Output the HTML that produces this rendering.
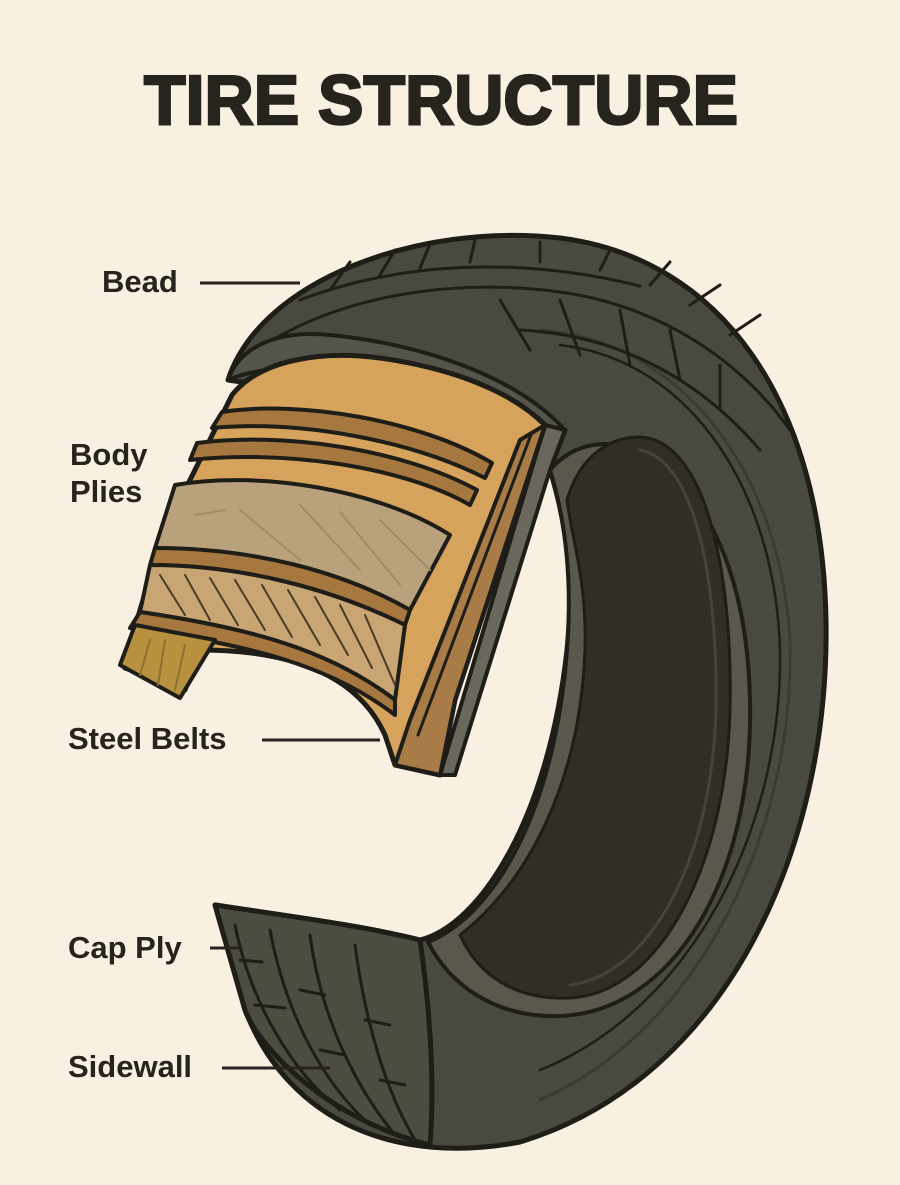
<!DOCTYPE html>
<html><head><meta charset="utf-8"><style>
html,body{margin:0;padding:0;background:#f8f0e1;}
svg{display:block}
text{font-family:"Liberation Sans",Arial,sans-serif;font-weight:bold;fill:#26241d}
</style></head><body>
<svg width="900" height="1185" viewBox="0 0 900 1185" xmlns="http://www.w3.org/2000/svg">
<rect width="900" height="1185" fill="#f8f0e1"/>
<text x="441" y="124" font-size="70" text-anchor="middle" textLength="594" lengthAdjust="spacingAndGlyphs" stroke="#26241d" stroke-width="2.5">TIRE STRUCTURE</text>

<g stroke="#1e1d18" stroke-linejoin="round" stroke-linecap="round">
<!-- tire body -->
<path d="M228,380 C260,280 420,222 560,238 C720,258 822,400 826,620 C830,850 725,1080 520,1142 C400,1165 290,1125 245,1010 L215,905 C280,915 360,925 420,940 C480,925 548,820 567,650 C574,580 567,525 550,470 L565,430 Z" fill="#4a493f" stroke-width="5"/>
<!-- sidewall lines -->
<path d="M540,330 C680,340 780,470 790,640 C795,830 700,1030 540,1100" fill="none" stroke="#3c3b33" stroke-width="3"/>
<path d="M560,345 C690,360 775,490 780,650 C783,830 690,1010 540,1070" fill="none" stroke-width="2.5"/>
<!-- hole rim -->
<path d="M550,470 C610,400 745,470 750,700 C754,880 672,1012 560,1016 C495,1018 450,985 428,942 C495,915 555,810 567,650 C572,585 567,525 550,470 Z" fill="#5a584c" stroke-width="4"/>
<!-- hole -->
<path d="M567,500 C580,455 610,437 640,437 C705,440 733,570 730,710 C726,865 660,995 568,998 C515,1000 478,975 460,935 C530,880 580,780 585,650 C587,580 572,540 567,500 Z" fill="#302e27" stroke-width="3"/>
<path d="M640,450 C695,460 718,580 716,710 C712,860 650,975 570,985" fill="none" stroke="#45433a" stroke-width="3"/>
<!-- top tread lines -->
<path d="M240,362 C330,292 460,278 560,292 C660,306 740,360 790,430" fill="none" stroke-width="3"/>
<path d="M300,300 C400,262 520,256 640,286" fill="none" stroke-width="3"/>
<path d="M330,290 L350,262 M380,275 L395,250 M420,268 L430,244 M470,262 L475,240 M540,262 L540,242 M600,270 L610,250 M650,285 L670,262 M690,305 L720,285 M730,335 L760,315" stroke-width="3"/>
<path d="M520,330 C620,335 700,380 760,450" fill="none" stroke-width="3"/>
<path d="M500,300 L530,350 M560,300 L580,355 M620,310 L630,365 M670,330 L680,380 M720,365 L720,410" stroke-width="3"/>
<!-- lower tread -->
<path d="M215,905 C280,915 360,925 420,940 C430,1010 435,1080 430,1145 C330,1120 260,1050 245,1010 Z" fill="#4d4c41" stroke-width="5"/>
<path d="M235,925 C250,1000 290,1070 340,1110 M270,930 C285,1010 320,1080 370,1125 M310,935 C320,1010 350,1080 395,1135 M355,945 C365,1020 385,1090 415,1140" fill="none" stroke-width="3"/>
<path d="M240,960 L262,962 M255,1005 L285,1008 M300,990 L325,995 M320,1050 L345,1055 M365,1020 L390,1025 M380,1080 L405,1085" stroke-width="3"/>

<!-- cutaway rubber edge -->
<path d="M228,380 C240,345 280,330 330,335 C430,345 520,380 565,430 L548,470 C500,420 420,385 330,370 C290,365 250,370 228,380 Z" fill="#55544a" stroke-width="4"/>
<!-- gray strip on right of cutaway -->
<path d="M565,430 L550,470 L455,775 L440,775 L545,425 Z" fill="#6a685c" stroke-width="4"/>
<!-- cutaway body -->
<path d="M232,395 C260,360 320,350 380,358 C450,368 510,390 545,425 L455,700 L440,775 L395,765 L385,735 C360,680 300,650 200,650 L185,690 L125,668 C135,620 160,540 190,480 Z" fill="#d6a35c" stroke-width="5"/>
<!-- right diagonal strips -->
<path d="M545,425 L520,440 L410,720 L395,765 L440,775 L455,700 Z" fill="#a97b46" stroke-width="4"/>
<path d="M532,432 L418,735 M520,440 L410,720" stroke-width="3" fill="none"/>
<!-- bands -->
<path d="M222,412 C300,400 420,420 492,463 L485,478 C410,440 300,420 212,428 Z" fill="#a6773f" stroke-width="4"/>
<path d="M197,443 C280,432 400,448 477,490 L470,505 C400,465 280,450 190,460 Z" fill="#a6773f" stroke-width="4"/>
<path d="M175,485 C260,470 380,490 450,535 L410,610 C340,570 250,550 155,548 Z" fill="#b9a17b" stroke-width="4"/>
<path d="M195,515 L225,510 M240,510 L300,560 M300,505 L360,570 M340,512 L400,585 M380,520 L430,570" stroke="#a08c69" stroke-width="2" fill="none"/>
<path d="M155,548 C250,548 340,570 410,610 L405,625 C330,588 240,565 150,565 Z" fill="#a6773f" stroke-width="4"/>
<path d="M150,565 C240,565 330,588 405,625 L395,700 C330,650 250,628 140,612 Z" fill="#c8a572" stroke-width="4"/>
<path d="M160,575 L185,615 M185,575 L210,620 M210,578 L238,625 M235,580 L265,630 M262,585 L292,637 M288,590 L320,645 M315,597 L348,655 M340,605 L372,668 M365,615 L395,685" stroke="#4a3b25" stroke-width="2" fill="none"/>
<path d="M140,612 C250,628 330,650 395,700 L395,715 C330,665 250,645 130,628 Z" fill="#a6773f" stroke-width="4"/>
<!-- leg -->
<path d="M135,625 L120,665 L180,698 L215,640 Z" fill="#b8913f" stroke-width="4"/>
<path d="M150,640 L140,675 M165,640 L158,685 M185,645 L175,690" stroke="#8f7030" stroke-width="2"/>
</g>

<!-- labels -->
<g stroke="#26241d" stroke-width="3">
<line x1="200" y1="283" x2="300" y2="283"/>
<line x1="262" y1="740" x2="380" y2="740"/>
<line x1="210" y1="948" x2="240" y2="948"/>
<line x1="222" y1="1068" x2="330" y2="1068"/>
</g>
<text x="102" y="292" font-size="31">Bead</text>
<text x="70" y="465" font-size="31">Body</text>
<text x="70" y="502" font-size="31">Plies</text>
<text x="68" y="749" font-size="31">Steel Belts</text>
<text x="68" y="958" font-size="31">Cap Ply</text>
<text x="68" y="1077" font-size="31">Sidewall</text>
</svg>
</body></html>
